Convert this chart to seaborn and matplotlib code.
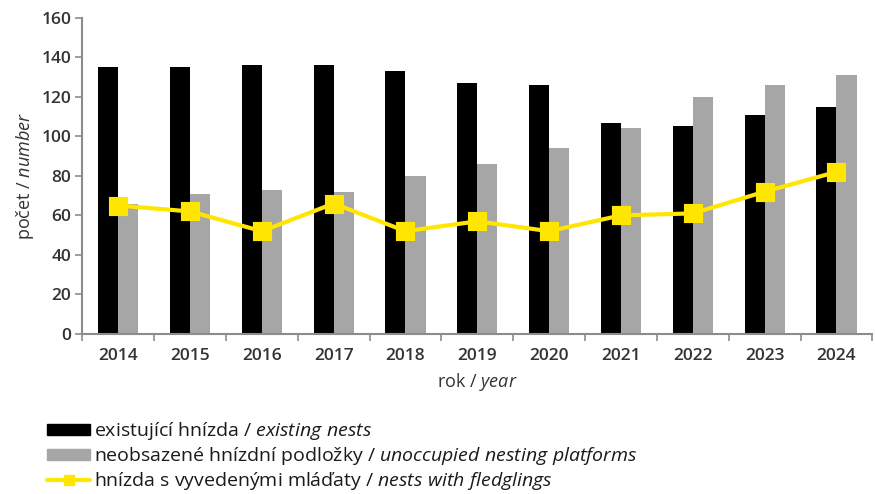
import matplotlib
matplotlib.use("Agg")
import matplotlib.pyplot as plt
import seaborn as sns
import pandas as pd
import numpy as np
from matplotlib.patches import Patch
from matplotlib.lines import Line2D

years = ["2014", "2015", "2016", "2017", "2018", "2019", "2020", "2021", "2022", "2023", "2024"]
existing_nests = [135, 135, 136, 136, 133, 127, 126, 107, 105, 111, 115]
unoccupied_platforms = [66, 71, 73, 72, 80, 86, 94, 104, 120, 126, 131]
nests_fledglings = [65, 62, 52, 66, 52, 57, 52, 60, 61, 72, 82]
yticks = [0, 20, 40, 60, 80, 100, 120, 140, 160]

BLACK = "#000000"
GRAY = "#A6A6A6"
YELLOW = "#FFE600"
TXT = "#333333"
SPINE = "#8C8C8C"

sns.set_theme(style="white")
plt.rcParams["font.family"] = ["Open Sans", "DejaVu Sans"]
plt.rcParams["mathtext.fontset"] = "custom"
plt.rcParams["mathtext.rm"] = "Open Sans"
plt.rcParams["mathtext.it"] = "Open Sans:italic"

df = pd.DataFrame({
    "year": years * 2,
    "value": existing_nests + unoccupied_platforms,
    "series": ["existing"] * len(years) + ["unoccupied"] * len(years),
})

fig = plt.figure(figsize=(8.75, 4.94), dpi=100)
ax = fig.add_axes([0.094, 0.324, 0.903, 0.64])

sns.barplot(data=df, x="year", y="value", hue="series", palette=[BLACK, GRAY],
            width=0.56, legend=False, ax=ax, saturation=1, linewidth=0, edgecolor="none")
sns.pointplot(x=years, y=nests_fledglings, color=YELLOW, markers="s",
              markersize=11, linewidth=3, ax=ax)

ax.set_ylim(0, 160)
ax.set_xlim(-0.5, len(years) - 0.5)
ax.set_yticks(yticks)
ax.tick_params(axis="y", which="major", length=5, width=1.2, color=SPINE, direction="out",
               labelsize=12.5, labelcolor=TXT, pad=3, left=True)
ax.tick_params(axis="x", which="major", length=0, labelsize=12.5, labelcolor=TXT, pad=10)
ax.set_xticks(np.arange(len(years) + 1) - 0.5, minor=True)
ax.tick_params(axis="x", which="minor", length=5, width=1.2, color=SPINE, direction="out", bottom=True)
for lab in ax.get_xticklabels() + ax.get_yticklabels():
    lab.set_fontweight("semibold")

for s in ["top", "right"]:
    ax.spines[s].set_visible(False)
for s in ["left", "bottom"]:
    ax.spines[s].set_color(SPINE)
    ax.spines[s].set_linewidth(1.5)

ax.set_xlabel(r"rok / $\it{year}$", fontsize=13, color=TXT, labelpad=5)
ax.set_ylabel(r"počet / $\it{number}$", fontsize=13, color=TXT, labelpad=4)

handles = [
    Patch(facecolor=BLACK, edgecolor=BLACK),
    Patch(facecolor=GRAY, edgecolor=GRAY),
    Line2D([0], [0], color=YELLOW, lw=3, marker="s", markersize=7),
]
labels = [
    r"existující hnízda / $\it{existing\ nests}$",
    r"neobsazené hnízdní podložky / $\it{unoccupied\ nesting\ platforms}$",
    r"hnízda s vyvedenými mláďaty / $\it{nests\ with\ fledglings}$",
]
fig.legend(handles, labels, loc="upper left", bbox_to_anchor=(0.045, 0.165),
           frameon=False, fontsize=14, handlelength=2.2, handleheight=0.5,
           handletextpad=0.2, labelspacing=0.15, borderaxespad=0, labelcolor="#1a1a1a")

fig.savefig("out.png", dpi=100)
